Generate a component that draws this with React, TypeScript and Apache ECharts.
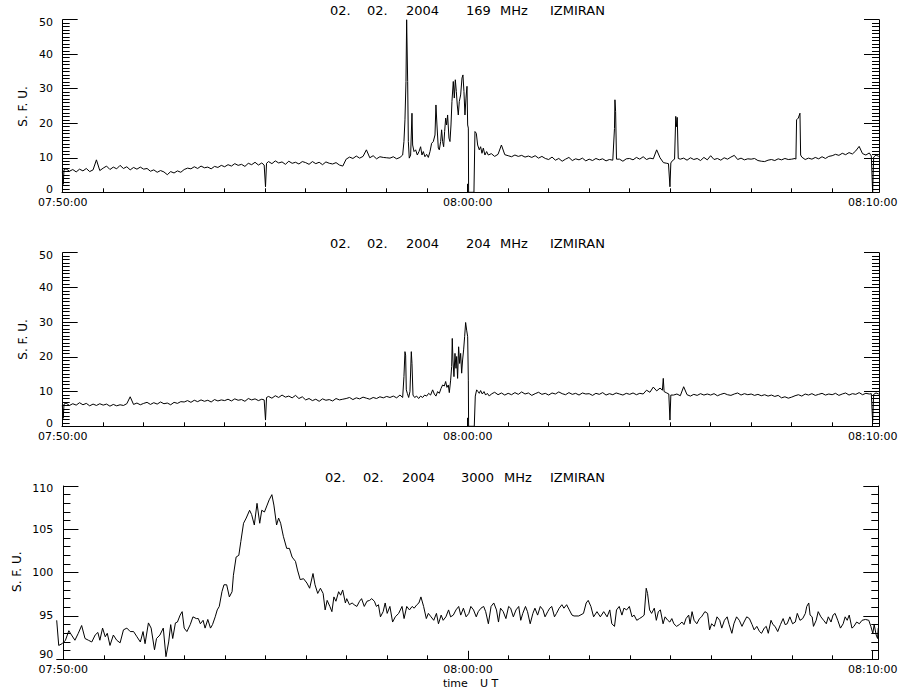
import React, { useEffect, useRef } from "react";
import * as echarts from "echarts";

// ---------- data ----------
// time axis: seconds after 07:50:00
const TICK_SECONDS = [0, 600, 1200];
const TIME_LABELS = ["07:50:00", "08:00:00", "08:10:00"];
const STEP = 5; // base grid step (s) of the 169/204 MHz records

// 169 MHz, base samples every 5 s (null = sample given in detail list)
const f169Base: (number | null)[] = [
  null, 6.8, 6.1, 6.6, 5.9, 6.7, 6.2, 6.9, 6.0, 6.5, 9.4, 6.3,
  7.0, 7.6, 6.6, 7.3, 6.8, 7.8, 6.9, 7.4, 6.5, 7.2, 6.7, 7.3,
  6.7, 6.9, 6.1, 6.5, 5.8, 6.3, 5.9, 5.1, 6.0, 5.6, 6.2, 5.8,
  6.6, 7.0, 6.8, 7.4, 6.9, 7.6, 7.1, 7.3, 6.8, 7.5, 7.2, 7.8,
  7.4, 8.0, 7.6, 8.3, 7.8, 8.1, 7.5, 8.4, 8.0, 8.7, 7.9, 8.5,
  null, 8.9, 8.3, 9.1, 8.5, 8.8, 8.1, 9.0, 8.4, 8.7, 8.2, 8.9,
  8.6, 8.1, 8.9, 8.3, 8.7, 8.0, 8.8, 8.4, 8.2, 8.6, 7.9, 7.6,
  9.6, 10.2, 9.8, 10.5, 9.9, 10.4, 12.3, 10.0, 10.6, 9.7, 10.3, 10.1,
  10.0, null, null, null, null, null, null, null, null, null, null, null,
  null, null, null, null, null, null, null, null, null, null, null, null,
  null, null, null, null, null, null, null, 11.2, 10.4, 11.0, 13.7, 10.9,
  10.6, 10.3, 10.8, 10.4, 10.7, 10.2, 10.5, 10.1, 10.6, 9.9, 10.4, 9.8,
  9.5, 10.2, 9.3, 9.8, 9.0, 9.6, 10.1, 9.2, 9.7, 9.4, 9.9, 9.1,
  9.6, 9.2, 9.8, 9.4, 9.7, 9.1, 9.5, 9.3, null, 9.6, 9.0, 9.7,
  9.8, 9.4, 10.1, 9.6, 10.3, 9.5, 9.9, 9.7, 12.3, 10.0, 8.6, 8.4,
  null, null, null, 9.6, 9.9, 9.3, 10.0, 9.5, 9.8, 9.2, 10.1, 9.4,
  10.6, 9.5, 9.8, 9.3, 10.0, 9.6, 10.2, 10.7, 9.5, 9.9, 9.4, 9.7,
  9.6, 9.8, 9.2, 9.0, 8.9, 9.3, 9.5, 9.2, 9.7, 9.4, 9.8, 9.5,
  9.6, 9.8, null, 10.2, 9.5, 9.9, 9.6, 10.1, 9.7, 10.3, 9.8, 10.4,
  10.6, 11.0, 10.7, 11.3, 10.9, 11.5, 11.1, 12.0, 13.3, 11.2, 10.8, 11.4,
];

// 169 MHz, fine samples [s, sfu] (start, dips, bursts, spikes, end)
const f169Detail: [number, number][] = [
  [-0.5, 6.0], [0.8, 2.3], [2, 6.6],
  [298.5, 7.9], [300.5, 1.6], [302, 8.4],
  [484.9, 9.9], [489.8, 10.3], [494.8, 9.7], [499.7, 10.1], [503.7, 10.8], [505.6, 14.7],
  [507.1, 21.0], [508.6, 32.1], [509.6, 50], [510.6, 50], [511.1, 32.1], [512.1, 14.7],
  [513.5, 9.9], [515.5, 10.8], [517.5, 22.9], [518.5, 13.7], [520.5, 11.8], [522.9, 12.3],
  [525.4, 10.8], [527.9, 11.8], [530.3, 13.2], [532.3, 10.8], [534.3, 11.8], [536.7, 10.3],
  [539.2, 11.0], [541.7, 10.1], [544.2, 11.8], [546.6, 14.2], [549.1, 14.7], [551.6, 16.6],
  [553.0, 25.3], [554.5, 19.5], [556.5, 12.8], [558.0, 12.3], [560.0, 14.7], [561.4, 18.1],
  [562.9, 14.7], [564.4, 13.2], [565.9, 17.6], [567.4, 21.5], [568.8, 19.5], [570.3, 22.4],
  [572.3, 15.7], [573.8, 14.7], [575.3, 19.5], [576.7, 26.3], [578.7, 32.1], [580.2, 27.3],
  [581.7, 32.6], [583.2, 29.2], [584.6, 25.3], [586.1, 22.4], [587.6, 26.3], [589.6, 28.2],
  [591.6, 33.1], [593.0, 34.0], [594.5, 29.2], [596.0, 22.4], [597.5, 27.3], [599.0, 30.7],
  [600.0, 19.5], [601.0, 18.6], [601.4, 0], [609.3, 0], [610.8, 17.6], [612.8, 17.1],
  [614.8, 13.7], [617.2, 12.3], [619.2, 13.2], [621.2, 11.3], [623.2, 12.8], [625.6, 10.8],
  [628.1, 11.8], [630.6, 10.8],
  [816, 9.3], [817.5, 18.5], [818.2, 26.8], [819.2, 23.4], [820.5, 9.6],
  [897.5, 8.3], [899.7, 1.6], [901, 8.5], [903.5, 9.2], [906.5, 9.6], [908.3, 22.0],
  [909.5, 19.0], [910.5, 21.7], [912, 9.8],
  [1086.3, 9.6], [1087.3, 21.0], [1089.8, 21.5], [1092.3, 22.9], [1093.3, 10.8],
  [1198, 10.5], [1200, 0], [1201.5, 10.2], [1205, 10.8], [1209, 10.4],
];

// 204 MHz, base samples every 5 s
const f204Base: (number | null)[] = [
  null, 6.7, 6.0, 6.5, 6.1, 6.8, 6.2, 6.6, 5.9, 6.4, 6.0, 6.5,
  6.1, 6.4, 5.8, 6.3, 5.9, 6.2, 6.0, 6.5, 8.5, 6.3, 6.7, 6.2,
  6.6, 6.9, 6.3, 6.8, 6.4, 7.0, 6.5, 6.7, 6.2, 6.9, 6.6, 7.1,
  7.0, 7.4, 6.9, 7.5, 7.1, 7.6, 7.2, 7.5, 7.0, 7.7, 7.3, 7.6,
  7.4, 7.8, 7.3, 7.9, 7.5, 7.7, 7.2, 8.0, 7.6, 7.9, 7.4, 7.8,
  null, 8.6, 8.1, 8.8, 8.3, 9.0, 8.4, 8.7, 8.2, 8.9, 8.0, 8.5,
  7.6, 8.0, 7.4, 7.8, 7.2, 7.9, 7.5, 7.7, 7.3, 8.0, 7.6, 7.8,
  8.0, 8.3, 7.7, 8.2, 7.9, 8.4, 8.1, 7.8, 8.3, 8.0, 8.5, 8.2,
  8.6, null, null, null, null, null, null, null, null, null, null, null,
  null, null, null, null, null, null, null, null, null, null, null, null,
  null, null, null, null, null, null, null, 9.3, 9.8, 9.1, 9.6, 9.0,
  9.5, 9.1, 9.7, 9.2, 9.9, 9.3, 9.6, 8.9, 9.4, 9.8, 9.2, 9.5,
  9.0, 9.6, 9.3, 9.9, 9.4, 9.1, 9.7, 9.2, 9.5, 9.0, 9.6, 9.3,
  9.4, 8.9, 9.5, 9.2, 9.7, 9.0, 9.4, 9.1, 9.6, 9.3, 9.0, 9.5,
  9.2, 9.6, 9.1, 9.5, 9.3, 10.4, 9.8, 11.3, 10.2, 11.0, null, 9.6,
  null, 9.0, 9.3, 8.8, 11.4, 9.1, 8.7, 9.2, 8.9, 9.4, 9.0, 9.3,
  9.0, 9.4, 8.8, 9.2, 9.5, 9.1, 8.9, 9.3, 9.6, 9.0, 9.4, 9.1,
  9.3, 8.9, 9.2, 8.8, 9.1, 8.7, 9.0, 8.6, 8.9, 8.2, 8.5, 8.1,
  8.4, 8.8, 9.1, 8.7, 9.3, 9.0, 9.4, 8.9, 9.2, 9.5, 9.0, 9.3,
  9.1, 9.5, 8.9, 9.3, 9.6, 9.0, 9.4, 9.2, 9.7, 9.1, 9.5, 9.3,
];

const f204Detail: [number, number][] = [
  [-0.5, 6.1], [0.8, 2.3], [2, 6.4],
  [298.5, 7.6], [300.5, 1.8], [302, 8.3],
  [484.9, 8.3], [489.8, 8.7], [494.8, 8.2], [499.7, 9.0], [503.7, 8.3], [505.6, 14.3],
  [507.1, 21.5], [508.1, 20.5], [509.1, 10.5], [510.6, 9.5], [512.6, 8.3], [514.5, 10.0],
  [516.5, 21.5], [517.5, 18.1], [519.0, 9.0], [521.4, 8.3], [524.4, 8.7], [527.4, 8.0],
  [530.3, 8.7], [533.3, 8.3], [536.3, 9.0], [539.2, 8.7], [542.2, 9.5], [545.1, 9.0],
  [548.1, 10.5], [550.6, 9.3], [553.0, 8.7], [555.5, 10.0], [558.0, 9.5], [560.5, 10.9],
  [562.9, 11.9], [565.4, 11.6], [567.4, 12.9], [569.3, 11.2], [571.3, 11.9], [572.8, 9.7],
  [574.8, 13.3], [576.3, 17.2], [577.2, 25.3], [578.2, 19.1], [579.7, 14.3], [581.2, 21.0],
  [582.7, 16.7], [583.7, 20.1], [585.1, 13.8], [586.6, 22.9], [588.1, 18.1], [589.6, 21.0],
  [591.1, 15.3], [592.5, 19.1], [594.0, 22.0], [595.5, 25.8], [597.0, 29.9], [598.5, 27.7],
  [600.0, 25.8], [601.0, 13.3], [601.4, 0], [609.8, 0], [611.3, 8.7], [613.3, 10.5],
  [615.3, 10.0], [617.2, 9.5], [619.2, 10.3], [621.7, 9.3], [624.2, 10.0], [626.6, 9.0],
  [629.1, 9.5], [632.1, 8.7],
  [888.5, 10.4], [889.8, 13.8], [891, 10.0],
  [898, 9.3], [899.7, 1.8], [901, 9.0],
  [1198, 9.4], [1200, 1.3], [1201.5, 9.2], [1205, 9.6], [1209, 9.3],
];

// 3000 MHz record [s, sfu]
const f3000: [number, number][] = [
  [-10, 94.5], [-7, 91.6], [-2, 91.8], [3, 92.2], [8, 93.3], [12, 92.8], [17, 92.2], [22, 93.0],
  [27, 93.9], [32, 92.4], [37, 92.2], [42, 92.0], [47, 92.8], [51, 93.1], [54, 92.2], [58, 93.6],
  [62, 92.6], [65, 93.0], [69, 91.6], [74, 92.8], [79, 92.2], [84, 91.9], [89, 93.4], [94, 93.6],
  [99, 93.2], [104, 93.2], [109, 92.6], [114, 92.0], [118, 93.2], [121, 91.8], [126, 94.2], [130, 93.6],
  [135, 91.1], [138, 92.4], [143, 92.8], [148, 93.6], [152, 90.3], [156, 92.0], [159, 94.0], [162, 92.4],
  [166, 94.2], [169, 94.3], [173, 95.1], [176, 95.5], [179, 93.6], [183, 93.2], [188, 94.0], [192, 94.9],
  [197, 94.7], [200, 94.7], [203, 94.1], [207, 94.5], [210, 93.6], [214, 94.6], [218, 93.6], [221, 94.0],
  [225, 94.9], [228, 95.7], [231, 96.1], [235, 97.8], [238, 98.6], [242, 98.6], [246, 97.2], [250, 97.8],
  [252, 99.7], [256, 101.8], [260, 102.0], [263, 103.6], [267, 105.7], [271, 106.3], [276, 107.2], [279, 106.7],
  [283, 105.5], [287, 108.0], [291, 105.7], [294, 107.2], [298, 107.0], [302, 107.8], [305, 108.4], [309, 109.0],
  [312, 107.8], [316, 105.5], [319, 106.3], [322, 105.7], [326, 104.2], [331, 102.8], [335, 102.8], [339, 101.8],
  [344, 101.3], [347, 100.3], [351, 99.2], [356, 99.3], [361, 98.8], [365, 98.2], [370, 99.9], [373, 98.6],
  [377, 97.6], [381, 98.2], [385, 97.6], [388, 95.7], [391, 96.8], [395, 96.1], [398, 95.5], [401, 97.2],
  [404, 96.7], [408, 97.8], [411, 97.4], [414, 98.0], [418, 96.5], [420, 97.0], [424, 96.3], [428, 96.5],
  [431, 96.3], [435, 96.1], [439, 96.7], [442, 97.0], [446, 96.1], [450, 96.7], [454, 96.8], [457, 97.0],
  [461, 96.7], [464, 96.1], [467, 96.3], [470, 94.9], [474, 95.5], [477, 96.5], [480, 95.3], [484, 96.1],
  [488, 94.3], [492, 94.9], [497, 95.3], [502, 96.1], [505, 94.7], [509, 96.1], [513, 95.7], [517, 96.1],
  [520, 95.9], [524, 96.3], [527, 96.5], [530, 97.2], [534, 96.1], [538, 94.7], [541, 95.3], [545, 94.9],
  [549, 94.5], [553, 95.3], [556, 94.1], [560, 95.1], [563, 94.5], [567, 94.9], [571, 95.7], [574, 94.9],
  [578, 95.1], [582, 95.7], [586, 96.1], [589, 95.1], [593, 95.9], [597, 94.9], [601, 95.3], [604, 96.1],
  [608, 95.7], [612, 94.9], [615, 95.5], [619, 95.9], [623, 96.1], [626, 95.5], [630, 94.1], [634, 96.1],
  [638, 96.5], [642, 95.7], [645, 94.3], [648, 95.9], [652, 95.5], [656, 94.7], [660, 96.1], [663, 95.9],
  [667, 94.9], [671, 95.7], [675, 96.1], [678, 94.5], [681, 95.3], [685, 96.1], [688, 95.5], [692, 94.1],
  [696, 95.3], [699, 95.9], [703, 95.1], [707, 96.1], [711, 95.7], [714, 94.9], [718, 95.5], [721, 95.9],
  [724, 96.1], [728, 94.9], [731, 95.3], [735, 95.9], [739, 96.3], [742, 95.9], [746, 96.3], [750, 95.7],
  [754, 95.1], [757, 95.0], [764, 95.0], [771, 95.3], [775, 96.5], [778, 96.8], [782, 96.1], [786, 94.9],
  [791, 95.5], [796, 94.9], [801, 95.5], [806, 94.9], [810, 95.7], [813, 94.1], [817, 93.8], [820, 95.7],
  [824, 96.1], [828, 95.1], [831, 95.9], [835, 95.7], [839, 96.1], [843, 94.9], [846, 95.1], [850, 94.5],
  [854, 94.7], [858, 94.9], [861, 95.1], [864, 98.2], [866, 97.6], [869, 95.7], [872, 95.3], [876, 95.9],
  [879, 94.5], [882, 95.5], [885, 95.7], [889, 94.1], [892, 94.9], [896, 94.5], [899, 94.3], [902, 94.7],
  [905, 94.1], [909, 93.8], [913, 94.0], [917, 94.3], [920, 94.0], [923, 94.7], [927, 95.1], [929, 94.1],
  [932, 95.5], [935, 94.5], [939, 94.1], [943, 94.7], [946, 94.9], [951, 95.5], [955, 95.3], [958, 93.4],
  [961, 94.1], [965, 93.8], [969, 94.9], [973, 94.5], [976, 93.6], [980, 94.5], [984, 94.9], [987, 94.0],
  [991, 93.0], [994, 94.1], [998, 94.9], [1002, 94.5], [1006, 93.8], [1009, 94.3], [1013, 94.9], [1017, 94.7],
  [1021, 94.0], [1024, 93.4], [1028, 93.8], [1032, 93.2], [1035, 93.0], [1039, 93.6], [1042, 93.8], [1045, 93.0],
  [1049, 94.5], [1052, 94.0], [1055, 93.8], [1059, 93.2], [1063, 94.0], [1067, 94.7], [1070, 94.0], [1073, 94.1],
  [1077, 94.9], [1081, 94.1], [1085, 94.3], [1088, 95.3], [1092, 94.5], [1096, 94.7], [1100, 95.3], [1102, 96.1],
  [1105, 96.5], [1107, 95.1], [1110, 94.9], [1112, 93.8], [1116, 94.5], [1119, 95.5], [1123, 94.9], [1127, 94.5],
  [1131, 94.1], [1134, 94.9], [1138, 94.3], [1141, 95.1], [1144, 95.3], [1148, 94.5], [1152, 93.6], [1156, 94.1],
  [1159, 94.9], [1162, 94.5], [1165, 95.1], [1169, 93.6], [1172, 93.8], [1176, 94.3], [1180, 94.1], [1184, 94.5],
  [1189, 94.6], [1194, 94.5], [1197, 93.8], [1200, 93.0], [1202, 94.0], [1205, 92.8], [1207, 92.4], [1208, 93.6],
];

const TITLE_DATE = ["02.", "02.", "2004"];
const FREQS = ["169", "204", "3000"];

// ---------- helpers ----------
function mergeRecord(base: (number | null)[], detail: [number, number][]) {
  const pts: [number, number][] = [];
  base.forEach((v, i) => {
    if (v !== null) pts.push([i * STEP, v]);
  });
  detail.forEach((p) => pts.push(p));
  pts.sort((a, b) => a[0] - b[0]);
  return pts;
}

const FONT = "DejaVu Sans";
const BLACK = "#000";

type Panel = {
  data: [number, number][];
  top: number;
  height: number;
  left: number;
  right: number;
  tick0: number;
  tick1: number;
  xmin: number;
  xmax: number;
  ymin: number;
  ymax: number;
  yint: number;
  ysplit: number;
  labelMargin: number;
  minLift: number;
  maxDrop: number;
};

const panels: Panel[] = [
  {
    data: mergeRecord(f169Base, f169Detail),
    top: 19.7, height: 172.6, left: 62, right: 879, tick0: 62.7, tick1: 872.7,
    xmin: -1, xmax: 1209.4, ymin: 0, ymax: 50, yint: 10, ysplit: 10, labelMargin: 9,
    minLift: 6, maxDrop: 5,
  },
  {
    data: mergeRecord(f204Base, f204Detail),
    top: 252.7, height: 173.6, left: 62, right: 879, tick0: 62.7, tick1: 872.7,
    xmin: -1, xmax: 1209.4, ymin: 0, ymax: 50, yint: 10, ysplit: 10, labelMargin: 9,
    minLift: 6, maxDrop: 5,
  },
  {
    data: f3000,
    top: 486, height: 173.3, left: 56.7, right: 878.3, tick0: 63.3, tick1: 872.7,
    xmin: -10, xmax: 1208.1, ymin: 90, ymax: 110, yint: 5, ysplit: 5, labelMargin: 3.5,
    minLift: 9, maxDrop: 4,
  },
];

function buildOption() {
  const grid: any[] = [];
  const xAxis: any[] = [];
  const yAxis: any[] = [];
  const series: any[] = [];

  panels.forEach((p, i) => {
    grid.push({ left: p.left, top: p.top, width: p.right - p.left, height: p.height, outerBoundsMode: "none", containLabel: false });
    grid.push({ left: p.tick0, top: p.top, width: p.tick1 - p.tick0, height: p.height, outerBoundsMode: "none", containLabel: false });
    const gA = 2 * i;
    const gB = 2 * i + 1;

    xAxis.push({
      type: "value", gridIndex: gA, min: p.xmin, max: p.xmax, position: "bottom",
      axisLine: { show: true, lineStyle: { color: BLACK, width: 1 } },
      axisTick: { show: false }, axisLabel: { show: false }, splitLine: { show: false },
    });
    xAxis.push({
      type: "value", gridIndex: gB, min: 0, max: 1200, interval: 600, position: "bottom",
      axisLine: { show: false },
      axisTick: { show: true, inside: true, length: 8.5, lineStyle: { color: BLACK, width: 1 } },
      minorTick: { show: true, splitNumber: 10, length: 4, lineStyle: { color: BLACK, width: 1 } },
      axisLabel: {
        show: true, margin: 5, color: BLACK, fontSize: 11, fontFamily: FONT,
        showMinLabel: true, showMaxLabel: true,
        formatter: (v: number) => {
          const k = TICK_SECONDS.indexOf(Math.round(v));
          return k >= 0 ? TIME_LABELS[k] : "";
        },
      },
      splitLine: { show: false }, minorSplitLine: { show: false },
    });

    const yCommon = {
      type: "value", gridIndex: gA, min: p.ymin, max: p.ymax, interval: p.yint,
      axisLine: { show: true, lineStyle: { color: BLACK, width: 1 } },
      axisTick: { show: true, inside: true, length: 15, lineStyle: { color: BLACK, width: 1 } },
      minorTick: { show: true, splitNumber: p.ysplit, length: 7, lineStyle: { color: BLACK, width: 1 } },
      splitLine: { show: false }, minorSplitLine: { show: false },
    };
    const lblStyle = { color: BLACK, fontSize: 11, fontFamily: FONT };
    yAxis.push({
      ...yCommon, position: "left",
      axisLabel: {
        show: true, margin: p.labelMargin, ...lblStyle, showMinLabel: true, showMaxLabel: true,
        formatter: (v: number) =>
          v === p.ymin ? `{lo|${v}}` : v === p.ymax ? `{hi|${v}}` : `${v}`,
        rich: {
          lo: { ...lblStyle, padding: [0, 0, p.minLift, 0] },
          hi: { ...lblStyle, padding: [p.maxDrop, 0, 0, 0] },
        },
      },
    });
    yAxis.push({ ...yCommon, position: "right", axisLabel: { show: false } });
    yAxis.push({ type: "value", gridIndex: gB, min: 0, max: 1, show: false });

    series.push({
      type: "line",
      xAxisIndex: gA,
      yAxisIndex: 3 * i,
      data: p.data,
      showSymbol: false,
      symbol: "none",
      clip: true,
      lineStyle: { color: BLACK, width: 1 },
      silent: true,
    });
  });

  const titleRows = [
    { y: 10, xs: [330, 367, 406, 466, 500, 550] },
    { y: 243, xs: [330, 367, 406, 466, 500, 550] },
    { y: 477, xs: [325, 363, 402, 461, 504, 550] },
  ];
  const graphic: any[] = [];
  titleRows.forEach((row, i) => {
    const pieces = [...TITLE_DATE, FREQS[i], "MHz", "IZMIRAN"];
    pieces.forEach((txt, k) => {
      graphic.push({
        type: "text", x: row.xs[k], y: row.y, silent: true,
        style: { text: txt, fill: BLACK, fontSize: 13, fontFamily: FONT, align: "left", verticalAlign: "middle" },
      });
    });
  });
  const yNamePos = [[23.3, 106.5], [23.3, 339.5], [17.2, 571.7]];
  yNamePos.forEach(([x, y]) => {
    graphic.push({
      type: "text", x, y, rotation: Math.PI / 2, silent: true,
      style: { text: "S. F. U.", fill: BLACK, fontSize: 12, fontFamily: FONT, align: "center", verticalAlign: "middle" },
    });
  });
  graphic.push({
    type: "text", x: 443, y: 683, silent: true,
    style: { text: "time", fill: BLACK, fontSize: 11, fontFamily: FONT, align: "left", verticalAlign: "middle" },
  });
  graphic.push({
    type: "text", x: 480, y: 683, silent: true,
    style: { text: "U T", fill: BLACK, fontSize: 11, fontFamily: FONT, align: "left", verticalAlign: "middle" },
  });

  return {
    animation: false,
    backgroundColor: "#fff",
    textStyle: { fontFamily: FONT, color: BLACK },
    grid, xAxis, yAxis, series, graphic,
  };
}

export default function App() {
  const ref = useRef<HTMLDivElement>(null);
  useEffect(() => {
    if (!ref.current) return;
    const chart = echarts.init(ref.current, null, { renderer: "svg" });
    chart.setOption(buildOption() as any);
    return () => chart.dispose();
  }, []);
  return (
    <div
      ref={ref}
      style={{ position: "fixed", left: 0, top: 0, width: 900, height: 700, background: "#fff" }}
    />
  );
}
